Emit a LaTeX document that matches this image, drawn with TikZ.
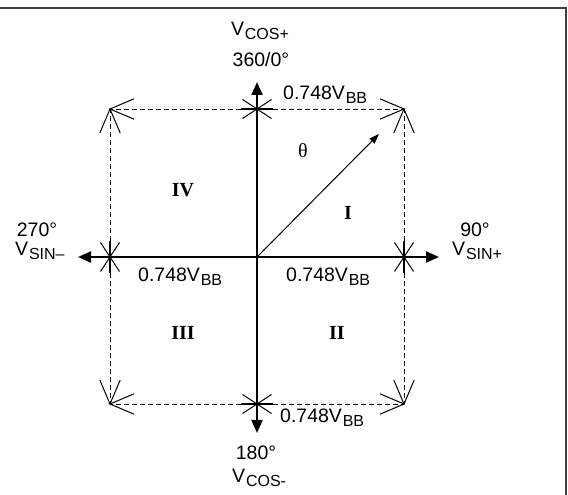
\documentclass[tikz,border=0pt]{standalone}
\usepackage{fontspec}
\setmainfont{Liberation Sans}
\newfontfamily\seriffam{Liberation Serif}
\usetikzlibrary{arrows.meta}
\newcommand\sbs[1]{\kern0.8pt\raisebox{-4pt}{\fontsize{16}{16}\selectfont #1}}
\begin{document}
\begin{tikzpicture}[x=1pt,y=1pt,
  axis/.style={line width=2.2pt,-{Triangle[length=13pt,width=11pt]}},
  dashline/.style={line width=0.9pt,dash pattern=on 5pt off 3pt},
  thinline/.style={line width=1pt},
  barline/.style={line width=2.2pt},
  lab/.style={font=\fontsize{19.5}{21}\selectfont, inner sep=0pt},
  quad/.style={font=\seriffam\bfseries\fontsize{20}{20}\selectfont, inner sep=0pt}]
\useasboundingbox (0,0) rectangle (568,495);
\draw[line width=1.5pt, black!75] (0,487) -- (566,487) -- (566,0);
% key points
\coordinate (O) at (257,238);
\coordinate (T) at (257,386);
\coordinate (B) at (257,91);
\coordinate (L) at (110,238);
\coordinate (R) at (404,238);
\coordinate (tl) at (110,386);
\coordinate (tr) at (404,386);
\coordinate (bl) at (110,91);
\coordinate (br) at (404,91);
\coordinate (up) at (257,413);
\coordinate (dn) at (257,62);
\coordinate (lf) at (78,238);
\coordinate (rt) at (439,238);
\coordinate (vec) at (379,361);
% dashed square
\draw[dashline] (T) -- (tl);
\draw[dashline] (T) -- (tr);
\draw[dashline] (B) -- (bl);
\draw[dashline] (B) -- (br);
\draw[dashline] (L) -- (tl);
\draw[dashline] (L) -- (bl);
\draw[dashline] (R) -- (tr);
\draw[dashline] (R) -- (br);
% open arrowheads at corners
\foreach \p/\a in {tr/0, tr/90, tl/180, tl/90, bl/180, bl/270, br/0, br/270}
  \draw[thinline] ([shift={(\a+157:26)}]\p) -- (\p) -- ([shift={(\a+203:26)}]\p);
% axes
\draw[axis] (O) -- (up);
\draw[axis] (O) -- (dn);
\draw[axis] (O) -- (lf);
\draw[axis] (O) -- (rt);
% vector
\draw[thinline,-{Triangle[length=10pt,width=7pt]}] (O) -- (vec);
% asterisks
\foreach \n/\r in {T/0, B/0, L/90, R/90}{
  \begin{scope}[shift={(\n)}, rotate=\r]
    \draw[barline] (-16,0) -- (16,0);
    \draw[thinline] (-14.5,9.5) -- (14.5,-9.5);
    \draw[thinline] (-14.5,-9.5) -- (14.5,9.5);
  \end{scope}}
% labels
\node[lab, anchor=base] (vcp) at (260,459) {V\sbs{COS+}};
\node[lab, anchor=base] (d360) at (261,428) {360/0°};
\node[lab, anchor=base west] (mtr) at (283,395) {0.748V\sbs{BB}};
\node[lab, anchor=base west] (ml) at (138,213) {0.748V\sbs{BB}};
\node[lab, anchor=base west] (mr) at (286,213) {0.748V\sbs{BB}};
\node[lab, anchor=base west] (mb) at (280,72) {0.748V\sbs{BB}};
\node[lab, anchor=base] (d90) at (475,258) {90°};
\node[lab, anchor=base west] (vsp) at (452,239) {V\sbs{SIN+}};
\node[lab, anchor=base] (d270) at (37,258) {270°};
\node[lab, anchor=base west] (vsm) at (15,239) {V\sbs{SIN–}};
\node[lab, anchor=base] (d180) at (256,35) {180°};
\node[lab, anchor=base west] (vcm) at (232,12) {V\sbs{COS-}};
\node[font=\seriffam\fontsize{20}{20}\selectfont, inner sep=0pt] (th) at (303,344) {θ};
\node[quad] (q1) at (348,282) {I};
\node[quad] (q2) at (337,162) {II};
\node[quad] (q3) at (183,162) {III};
\node[quad] (q4) at (183,305) {IV};
\end{tikzpicture}
\end{document}
